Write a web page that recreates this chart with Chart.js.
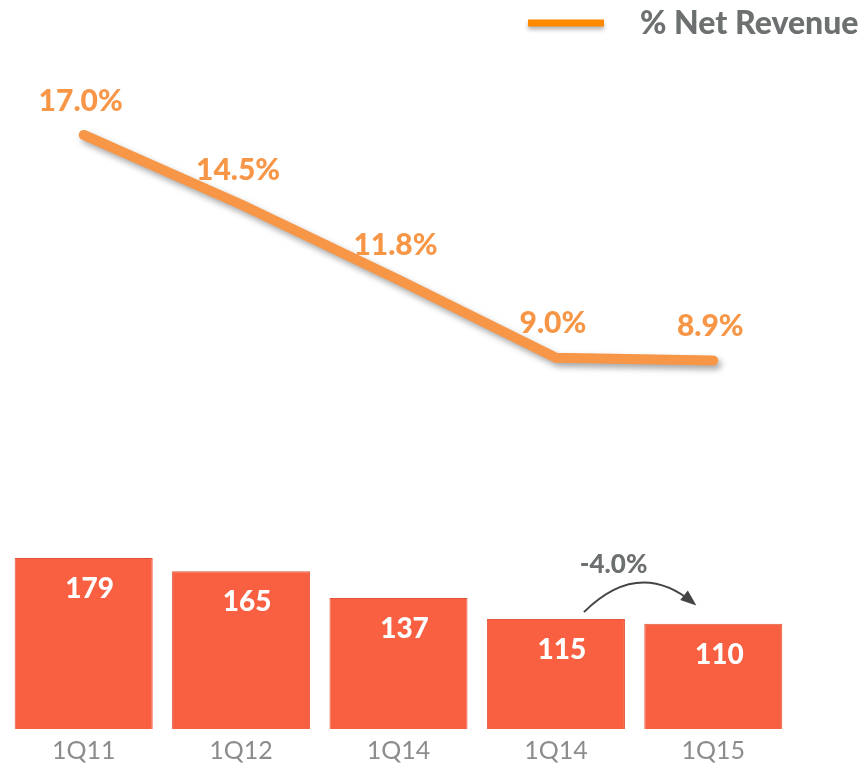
<!DOCTYPE html>
<html>
<head>
<meta charset="utf-8">
<script src="https://cdn.jsdelivr.net/npm/chart.js@4.4.0/dist/chart.umd.min.js"></script>
<style>
  html, body { margin: 0; padding: 0; background: #ffffff; }
  #wrap { width: 866px; height: 773px; }
</style>
</head>
<body>
<div id="wrap"><canvas id="myChart" width="866" height="773"></canvas></div>
<script>
// data
const quarters = ['1Q11', '1Q12', '1Q14', '1Q14', '1Q15'];
const expenseValues = [179, 165, 137, 115, 110];
const netRevenuePct = [17.0, 14.5, 11.8, 9.0, 8.9];
const lineLabel = '% Net Revenue';
const changeLabel = '-4.0%';

const barColor = '#f95f41';
const lineColor = '#f79646';
const legendColor = '#ff8a00';
const greyText = '#6d7070';

// draws the value labels, the legend and the -4.0% arrow
const extrasPlugin = {
  id: 'extras',
  beforeDatasetDraw(chart, args) {
    if (args.index === 1) {
      const ctx = chart.ctx;
      ctx.save();
      ctx.shadowColor = 'rgba(0,0,0,0.35)';
      ctx.shadowBlur = 6;
      ctx.shadowOffsetX = 3;
      ctx.shadowOffsetY = 4;
    }
  },
  afterDatasetDraw(chart, args) {
    if (args.index === 1) {
      chart.ctx.restore();
    }
  },
  afterDraw(chart) {
    const ctx = chart.ctx;
    const bars = chart.getDatasetMeta(0).data;
    const pts = chart.getDatasetMeta(1).data;

    ctx.save();
    ctx.textAlign = 'center';
    ctx.textBaseline = 'middle';

    // bar values
    ctx.fillStyle = '#ffffff';
    ctx.font = '900 28px Lato';
    bars.forEach((b, i) => {
      ctx.fillText(String(expenseValues[i]), b.x + 6, b.y + 31);
    });

    // line values
    ctx.fillStyle = lineColor;
    ctx.font = '900 30px Lato';
    pts.forEach((p, i) => {
      ctx.fillText(netRevenuePct[i].toFixed(1) + '%', p.x - 3, p.y - 34);
    });

    // legend
    ctx.save();
    ctx.shadowColor = 'rgba(0,0,0,0.3)';
    ctx.shadowBlur = 4;
    ctx.shadowOffsetY = 3;
    ctx.strokeStyle = legendColor;
    ctx.lineWidth = 7;
    ctx.beginPath();
    ctx.moveTo(528, 23);
    ctx.lineTo(604, 23);
    ctx.stroke();
    ctx.restore();
    ctx.fillStyle = greyText;
    ctx.font = '900 32px Lato';
    ctx.textAlign = 'left';
    ctx.fillText(lineLabel, 640, 24);

    // change arrow between the last two bars
    const b4 = bars[3], b5 = bars[4];
    const sx = b4.x + 28, sy = b4.y - 7;
    const ex = b5.x - 20, ey = b5.y - 21;
    const cx = (sx + ex) / 2, cy = Math.min(sy, ey) - 45;
    ctx.strokeStyle = '#444444';
    ctx.lineWidth = 2;
    ctx.beginPath();
    ctx.moveTo(sx, sy);
    ctx.quadraticCurveTo(cx, cy, ex, ey);
    ctx.stroke();
    const ang = Math.atan2(ey - cy, ex - cx);
    ctx.fillStyle = '#444444';
    ctx.beginPath();
    ctx.moveTo(ex + 4 * Math.cos(ang), ey + 4 * Math.sin(ang));
    ctx.lineTo(ex - 12 * Math.cos(ang) - 6 * Math.sin(ang), ey - 12 * Math.sin(ang) + 6 * Math.cos(ang));
    ctx.lineTo(ex - 12 * Math.cos(ang) + 6 * Math.sin(ang), ey - 12 * Math.sin(ang) - 6 * Math.cos(ang));
    ctx.closePath();
    ctx.fill();

    ctx.fillStyle = greyText;
    ctx.font = '900 26px Lato';
    ctx.textAlign = 'center';
    ctx.fillText(changeLabel, (b4.x + b5.x) / 2 - 21, 565);
    ctx.restore();
  }
};

new Chart(document.getElementById('myChart'), {
  type: 'bar',
  data: {
    labels: quarters,
    datasets: [
      {
        type: 'bar',
        label: 'Value',
        data: expenseValues,
        backgroundColor: barColor,
        borderColor: '#e2553a',
        borderWidth: 1,
        barPercentage: 0.877,
        categoryPercentage: 1,
        yAxisID: 'y',
        order: 2
      },
      {
        type: 'line',
        label: lineLabel,
        data: netRevenuePct,
        borderColor: lineColor,
        backgroundColor: lineColor,
        borderWidth: 10,
        borderCapStyle: 'round',
        borderJoinStyle: 'round',
        pointRadius: 0,
        tension: 0,
        yAxisID: 'y1',
        order: 1
      }
    ]
  },
  options: {
    responsive: false,
    animation: false,
    layout: {
      padding: { top: 60, left: 5, right: 74, bottom: 0 }
    },
    plugins: {
      legend: { display: false },
      tooltip: { enabled: false }
    },
    scales: {
      x: {
        grid: { display: false, drawTicks: false },
        border: { display: false },
        ticks: {
          color: '#8c8c8c',
          font: { family: 'Lato', size: 25 },
          padding: 7
        }
      },
      y: {
        display: false,
        min: 0,
        max: 700
      },
      y1: {
        display: false,
        min: -4.33,
        max: 19.69
      }
    }
  },
  plugins: [extrasPlugin]
});
</script>
</body>
</html>
